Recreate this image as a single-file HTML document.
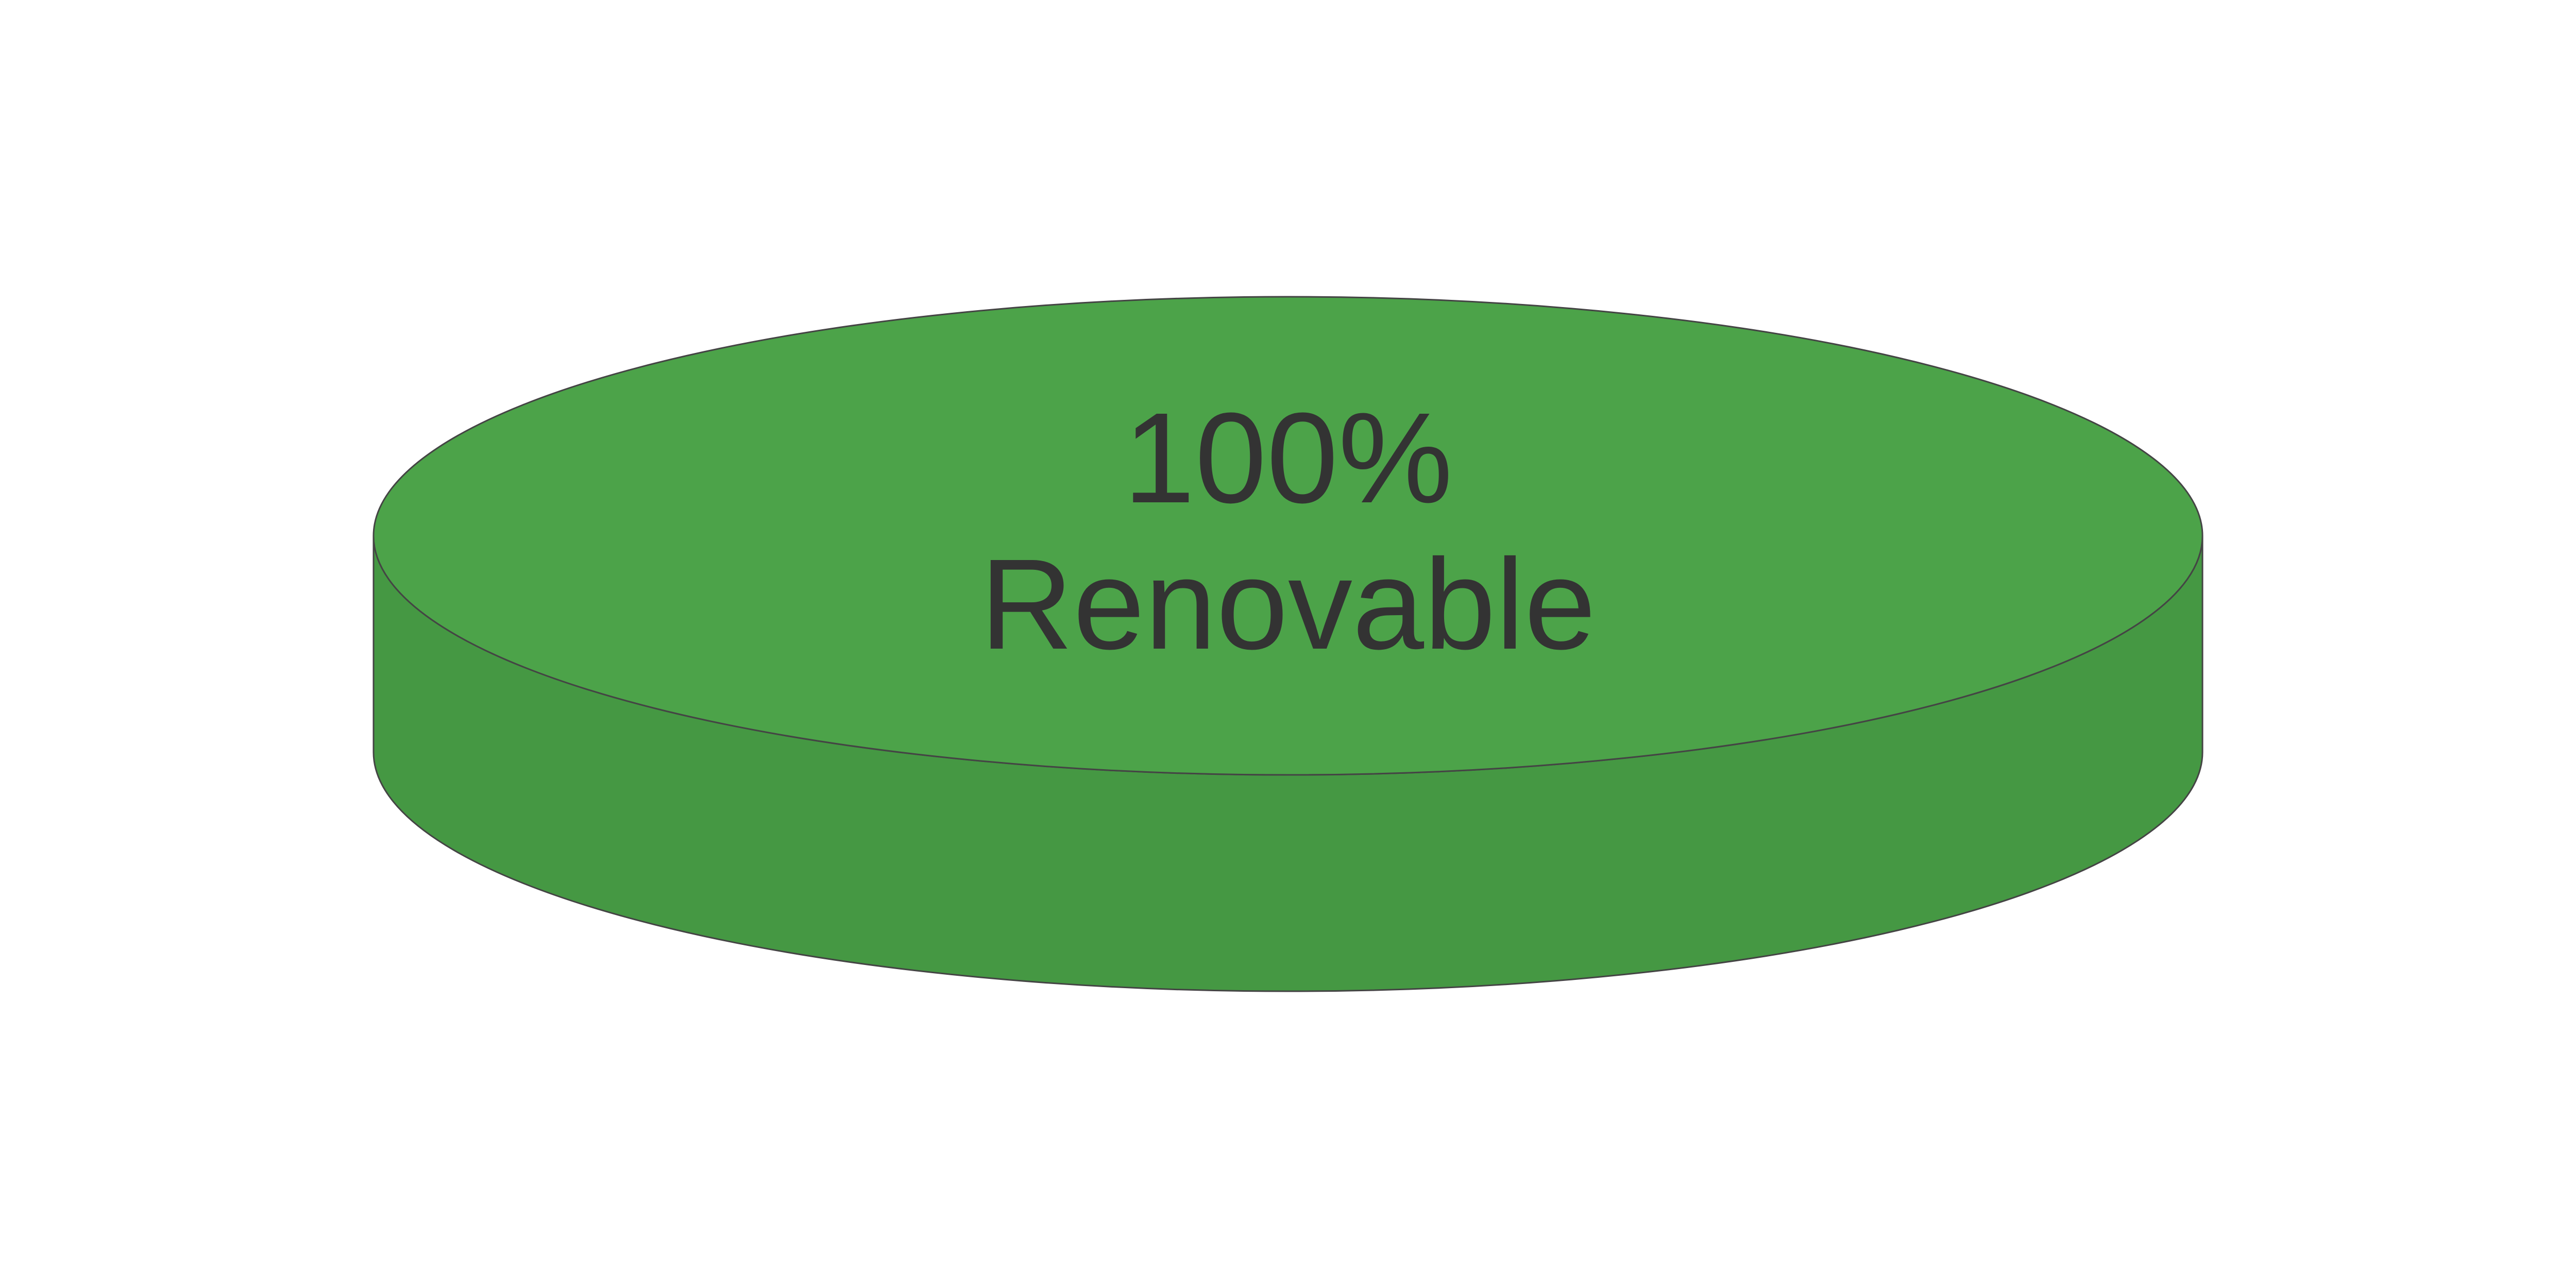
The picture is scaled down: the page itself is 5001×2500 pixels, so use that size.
<!DOCTYPE html>
<html><head><meta charset="utf-8"><style>
html,body{margin:0;padding:0;background:#fff;}
svg{display:block;}
</style></head><body>
<svg id="chart" width="5001" height="2500" viewBox="0 0 5001 2500" xmlns="http://www.w3.org/2000/svg"></svg>
<script>
const categories = ["Renovable"];
const values = [100];
const colors = ["#4ca349"];
const sideColors = ["#459843"];

const svg = document.getElementById('chart');
const NS = 'http://www.w3.org/2000/svg';
const cx = 2500, cy = 1040, rx = 1775, ry = 464, depth = 420;
const total = values.reduce((a,b)=>a+b,0);

function mk(tag, attrs){ const e=document.createElementNS(NS,tag); for(const k in attrs) e.setAttribute(k,attrs[k]); svg.appendChild(e); return e; }

let start = -Math.PI/2;
values.forEach((v,i)=>{
  const frac = v/total;
  const end = start + frac*2*Math.PI;
  const side = mk('path',{d:`M${cx-rx},${cy} L${cx-rx},${cy+depth} A${rx},${ry} 0 0 0 ${cx+rx},${cy+depth} L${cx+rx},${cy} A${rx},${ry} 0 0 1 ${cx-rx},${cy} Z`, fill:sideColors[i], stroke:'#444', 'stroke-width':3});
  
  
  let top;
  if (frac >= 0.9999) {
    top = mk('ellipse',{cx:cx, cy:cy, rx:rx, ry:ry, fill:colors[i], stroke:'#444', 'stroke-width':3});
  } else {
    const x1=cx+rx*Math.cos(start), y1=cy+ry*Math.sin(start);
    const x2=cx+rx*Math.cos(end), y2=cy+ry*Math.sin(end);
    top = mk('path',{d:`M${cx},${cy} L${x1},${y1} A${rx},${ry} 0 ${frac>0.5?1:0} 1 ${x2},${y2} Z`, fill:colors[i], stroke:'#444','stroke-width':3});
  }
  
  
  const mid = (start+end)/2;
  const lx = frac>=0.9999 ? cx : cx+rx*0.6*Math.cos(mid);
  const ly = frac>=0.9999 ? cy : cy+ry*0.6*Math.sin(mid);
  const t1 = mk('text',{x:lx, y:ly-65, 'text-anchor':'middle', 'font-family':"'Liberation Sans', Arial, sans-serif", 'font-size':250, fill:'#333'});
  t1.textContent = Math.round(frac*100) + '%';
  
  
  const t2 = mk('text',{x:lx, y:ly+219, 'text-anchor':'middle', 'font-family':"'Liberation Sans', Arial, sans-serif", 'font-size':250, fill:'#333'});
  t2.textContent = categories[i];
  
  
  start = end;
});
</script>
</body></html>
